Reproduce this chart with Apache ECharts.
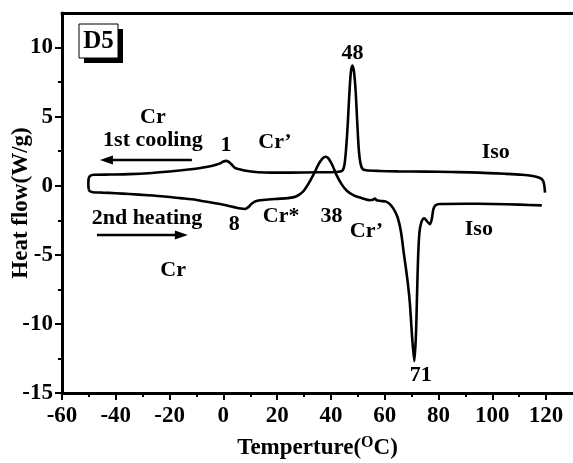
<!DOCTYPE html>
<html>
<head>
<meta charset="utf-8">
<script src="https://cdn.jsdelivr.net/npm/echarts@6/dist/echarts.min.js"></script>
<style>
  html, body { margin: 0; padding: 0; background: #fff; }
  #chart { width: 573px; height: 463px; }
</style>
</head>
<body>
<div id="chart"></div>
<script>
// 1st cooling trace, recorded from 120 °C down to -50 °C
const coolTemp = [119.6, 119.4, 119.1, 118.5, 117.5, 115, 111, 105, 95, 85, 75, 65, 58, 53, 51.8, 51, 50.4, 49.8, 49.2, 48.6, 48, 47.4, 46.8, 46.2, 45.6, 45, 44.2, 42, 35, 25, 18, 13, 9, 6, 4.3, 3, 2, 1, 0, -1.5, -4, -8, -13, -20, -28, -35, -42, -48.2, -49.5, -50.1, -50.2, -50.1];
const coolFlow = [-0.5, -0.1, 0.25, 0.45, 0.58, 0.7, 0.79, 0.86, 0.95, 0.99, 1.02, 1.04, 1.07, 1.12, 1.2, 1.6, 2.5, 4.5, 6.8, 8.2, 8.7, 8.2, 6.5, 4.3, 2.6, 1.5, 1.08, 0.99, 0.97, 0.95, 0.95, 0.98, 1.07, 1.2, 1.3, 1.55, 1.72, 1.8, 1.75, 1.6, 1.45, 1.3, 1.17, 1.03, 0.9, 0.84, 0.81, 0.79, 0.72, 0.5, 0.1, -0.25];

// 2nd heating trace, recorded from -50 °C up to 120 °C
const heatTemp = [-50.1, -49.6, -48.5, -45, -40, -35, -28, -22, -16, -10, -5, 0, 4, 6.5, 8, 9.3, 10.5, 12, 15, 20, 24, 27, 29.5, 31.5, 33.5, 35.5, 37, 38, 39, 40.5, 42, 44, 46, 48.5, 51.5, 54.5, 55.6, 56.3, 57, 58.5, 60.5, 62, 63.5, 64.8, 66, 67.1, 68.3, 69.3, 70.2, 71, 71.6, 72, 72.4, 72.9, 73.6, 74.7, 75.6, 76.8, 77.5, 78.1, 78.9, 80.5, 90, 100, 110, 118.4];
const heatFlow = [-0.25, -0.4, -0.47, -0.5, -0.54, -0.6, -0.69, -0.78, -0.9, -1.03, -1.2, -1.38, -1.55, -1.65, -1.68, -1.55, -1.3, -1.12, -1.03, -0.95, -0.9, -0.78, -0.45, 0.1, 0.8, 1.6, 2.0, 2.1, 2.0, 1.5, 0.8, 0.1, -0.38, -0.7, -0.9, -1.05, -1.02, -0.92, -1.05, -1.1, -1.15, -1.35, -1.75, -2.3, -3.3, -4.9, -6.6, -8.4, -11, -12.7, -10.8, -8, -5.2, -3.4, -2.65, -2.35, -2.55, -2.78, -2.4, -1.7, -1.42, -1.32, -1.3, -1.32, -1.37, -1.42];

// axis ticks
const xTickValues = [-60, -40, -20, 0, 20, 40, 60, 80, 100, 120];
const xMinorValues = [-50, -30, -10, 10, 30, 50, 70, 90, 110];
const yTickValues = [-15, -10, -5, 0, 5, 10];
const yMinorValues = [-12.5, -7.5, -2.5, 2.5, 7.5];

// phase / peak annotations, anchored in data coordinates (°C, W/g)
const notes = [
  { text: 'Cr', at: [-26.2, 4.97] },
  { text: '1st cooling', at: [-26.2, 3.31] },
  { text: '1', at: [1, 2.94] },
  { text: 'Cr\u2019', at: [19.2, 3.16] },
  { text: '48', at: [48, 9.6] },
  { text: 'Iso', at: [101.3, 2.44] },
  { text: '2nd heating', at: [-28.4, -2.34] },
  { text: '8', at: [4, -2.77] },
  { text: 'Cr*', at: [21.5, -2.19] },
  { text: '38', at: [40.2, -2.19] },
  { text: 'Cr\u2019', at: [53.2, -3.27] },
  { text: 'Iso', at: [95, -3.13] },
  { text: 'Cr', at: [-18.7, -6.1] },
  { text: '71', at: [73.4, -13.75] }
];
// direction arrows: [from, to]
const arrows = [
  [[-11.7, 1.86], [-45.9, 1.86]],
  [[-47.0, -3.57], [-13.2, -3.57]]
];

const FONT = '"Liberation Serif", "Times New Roman", serif';
const zip = (xs, ys) => xs.map((x, i) => [x, ys[i]]);

const chart = echarts.init(document.getElementById('chart'), null, { renderer: 'canvas' });

const lineBase = { onZero: false, lineStyle: { color: '#000', width: 3 } };
const labelStyle = { color: '#000', fontFamily: FONT, fontWeight: 'bold', fontSize: 23 };

chart.setOption({
  animation: false,
  backgroundColor: '#fff',
  grid: { left: 62, right: 0, top: 13, bottom: 70, containLabel: false, outerBoundsMode: 'none' },
  xAxis: [
    {
      type: 'value', min: -60, max: 130, position: 'bottom',
      axisLine: lineBase,
      axisTick: { show: true, inside: false, length: 7, lineStyle: { color: '#000', width: 2 }, customValues: xTickValues },
      axisLabel: Object.assign({ margin: 12, customValues: xTickValues }, labelStyle),
      splitLine: { show: false },
      name: 'Temperture({s|O}C)',
      nameLocation: 'middle',
      nameGap: 42,
      nameTextStyle: {
        color: '#000', fontFamily: FONT, fontWeight: 'bold', fontSize: 23,
        rich: {
          s: { fontFamily: FONT, fontWeight: 'bold', fontSize: 16, color: '#000', verticalAlign: 'top', padding: [0, 0, 10, 0] }
        }
      }
    },
    {
      type: 'value', min: -60, max: 130, position: 'bottom',
      axisLine: { show: false, onZero: false },
      axisTick: { show: true, length: 4, lineStyle: { color: '#000', width: 2 }, customValues: xMinorValues },
      axisLabel: { show: false },
      splitLine: { show: false }
    },
    {
      type: 'value', min: -60, max: 130, position: 'top',
      axisLine: lineBase,
      axisTick: { show: false },
      axisLabel: { show: false },
      splitLine: { show: false }
    }
  ],
  yAxis: [
    {
      type: 'value', min: -15, max: 12.5, position: 'left',
      axisLine: lineBase,
      axisTick: { show: true, length: 7, lineStyle: { color: '#000', width: 2 }, customValues: yTickValues },
      axisLabel: Object.assign({ margin: 9, customValues: yTickValues }, labelStyle),
      splitLine: { show: false },
      name: 'Heat flow(W/g)',
      nameLocation: 'middle',
      nameGap: 29,
      nameMoveOverlap: false,
      nameRotate: 90,
      nameTextStyle: { color: '#000', fontFamily: FONT, fontWeight: 'bold', fontSize: 23 }
    },
    {
      type: 'value', min: -15, max: 12.5, position: 'left',
      axisLine: { show: false, onZero: false },
      axisTick: { show: true, length: 4, lineStyle: { color: '#000', width: 2 }, customValues: yMinorValues },
      axisLabel: { show: false },
      splitLine: { show: false }
    }
  ],
  series: [
    {
      name: '1st cooling', type: 'line', xAxisIndex: 0, yAxisIndex: 0,
      data: zip(coolTemp, coolFlow), showSymbol: false, smooth: 0.3,
      lineStyle: { color: '#000', width: 2.6 }, silent: true
    },
    {
      name: '2nd heating', type: 'line', xAxisIndex: 0, yAxisIndex: 0,
      data: zip(heatTemp, heatFlow), showSymbol: false, smooth: 0.3,
      lineStyle: { color: '#000', width: 2.6 }, silent: true
    }
  ]
});

// overlay: sample tag, phase labels and scan-direction arrows
const px = (p) => chart.convertToPixel({ xAxisIndex: 0, yAxisIndex: 0 }, p);
const graphics = [
  { type: 'rect', shape: { x: 84, y: 29, width: 39, height: 34 }, style: { fill: '#000' } },
  { type: 'rect', shape: { x: 79, y: 24, width: 39, height: 34 }, style: { fill: '#fff', stroke: '#000', lineWidth: 1 } },
  { type: 'text', style: { text: 'D5', x: 98.5, y: 41.5, font: 'bold 25px ' + FONT, fill: '#000', align: 'center', verticalAlign: 'middle', textAlign: 'center', textVerticalAlign: 'middle' } }
];
notes.forEach(n => {
  const [x, y] = px(n.at);
  graphics.push({
    type: 'text',
    style: { text: n.text, x, y, font: 'bold 22px ' + FONT, fill: '#000', align: 'center', verticalAlign: 'middle', textAlign: 'center', textVerticalAlign: 'middle' }
  });
});
arrows.forEach(([from, to]) => {
  const a = px(from), b = px(to);
  const dir = Math.sign(b[0] - a[0]);
  const headLen = 13, headHalf = 4.5;
  graphics.push({
    type: 'line',
    shape: { x1: a[0], y1: a[1], x2: b[0] - dir * (headLen - 2), y2: b[1] },
    style: { stroke: '#000', lineWidth: 2.6 }
  });
  graphics.push({
    type: 'polygon',
    shape: { points: [[b[0], b[1]], [b[0] - dir * headLen, b[1] - headHalf], [b[0] - dir * headLen, b[1] + headHalf]] },
    style: { fill: '#000' }
  });
});
chart.setOption({ graphic: graphics });
</script>
</body>
</html>
